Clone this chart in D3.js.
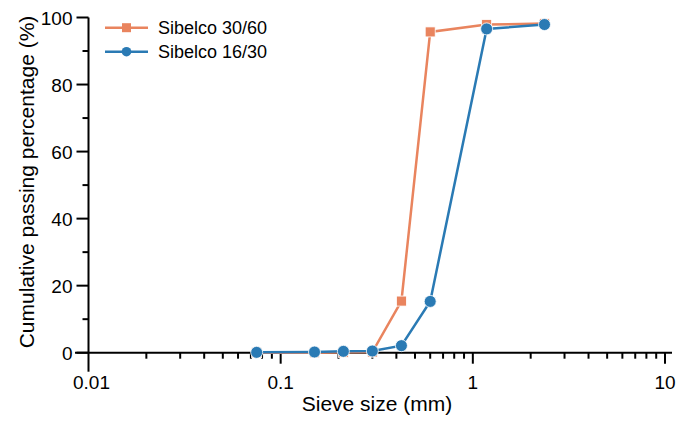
<!DOCTYPE html>
<html>
 <head>
    <title>Sieve curve</title>
    <script src="https://d3js.org/d3.v7.min.js"></script>
    <style>
      body { margin: 0; background: #fff; }
      text { font-family: "Liberation Sans", Arial, sans-serif; fill: #000; }
    </style>
 </head>
 <body>
    <div id="chart"></div>
    <script>
      // sieve sizes (mm) and cumulative passing (%)
      var sizes3060 = [0.075, 0.15, 0.212, 0.3, 0.425, 0.6, 1.18, 2.36];
      var pass3060 = [0, 0, 0.1, 0.2, 15.4, 95.7, 97.9, 98.2];
      var sizes1630 = [0.075, 0.15, 0.212, 0.3, 0.425, 0.6, 1.18, 2.36];
      var pass1630 = [0.1, 0.2, 0.4, 0.5, 2.1, 15.3, 96.6, 97.9];
      var seriesNames = ["Sibelco 30/60", "Sibelco 16/30"];
      var xTickLabels = ["0.01", "0.1", "1", "10"];
      var yTicks = [0, 20, 40, 60, 80, 100];

      var width = 688, height = 423;
      var colors = ["#E9845E", "#2A7AB4"];

      var svg = d3.select("#chart").append("svg")
        .attr("width", width)
        .attr("height", height);

      var x = d3.scaleLog().domain([0.01, 10]).range([88.5, 665]);
      var y = d3.scaleLinear().domain([0, 100]).range([352.7, 17.5]);

      // minor ticks for the log axis
      var xMinor = [];
      [0.01, 0.1, 1].forEach(function (d) {
        for (var k = 2; k <= 9; k++) xMinor.push(d * k);
      });

      // x axis
      var xAxis = svg.append("g").attr("transform", "translate(0," + y(0) + ")");
      xAxis.append("line")
        .attr("x1", 75).attr("x2", 672)
        .attr("stroke", "#000").attr("stroke-width", 2);
      xAxis.selectAll(".minor").data(xMinor).enter().append("line")
        .attr("x1", function (d) { return x(d); })
        .attr("x2", function (d) { return x(d); })
        .attr("y1", 0).attr("y2", 6)
        .attr("stroke", "#000").attr("stroke-width", 2);
      xAxis.selectAll(".major").data(xTickLabels).enter().append("line")
        .attr("x1", function (d) { return x(+d); })
        .attr("x2", function (d) { return x(+d); })
        .attr("y1", 0).attr("y2", function (d, i) { return i === 0 ? 19 : 11; })
        .attr("stroke", "#000").attr("stroke-width", 2);
      xAxis.selectAll(".lab").data(xTickLabels).enter().append("text")
        .attr("x", function (d) { return x(+d) + (d === "0.01" ? 3 : 0); })
        .attr("y", 36)
        .attr("text-anchor", "middle")
        .style("font-size", "19px")
        .text(function (d) { return d; });

      // y axis
      var yAxis = svg.append("g").attr("transform", "translate(" + x(0.01) + ",0)");
      yAxis.append("line")
        .attr("y1", y(100)).attr("y2", y(0))
        .attr("stroke", "#000").attr("stroke-width", 2);
      yAxis.selectAll(".minor").data([10, 30, 50, 70, 90]).enter().append("line")
        .attr("x1", -6).attr("x2", 0)
        .attr("y1", function (d) { return y(d); })
        .attr("y2", function (d) { return y(d); })
        .attr("stroke", "#000").attr("stroke-width", 2);
      yAxis.selectAll(".major").data(yTicks).enter().append("line")
        .attr("x1", -12).attr("x2", 0)
        .attr("y1", function (d) { return y(d); })
        .attr("y2", function (d) { return y(d); })
        .attr("stroke", "#000").attr("stroke-width", 2);
      yAxis.selectAll(".lab").data(yTicks).enter().append("text")
        .attr("x", -16)
        .attr("y", function (d) { return y(d) + 7; })
        .attr("text-anchor", "end")
        .style("font-size", "19px")
        .text(function (d) { return d; });

      // axis titles
      svg.append("text")
        .attr("x", 377).attr("y", 411)
        .attr("text-anchor", "middle")
        .style("font-size", "21px")
        .text("Sieve size (mm)");
      svg.append("text")
        .attr("transform", "translate(34,182) rotate(-90)")
        .attr("text-anchor", "middle")
        .style("font-size", "21px")
        .text("Cumulative passing percentage (%)");

      var line = d3.line()
        .x(function (d) { return x(d[0]); })
        .y(function (d) { return y(d[1]); });

      var data3060 = d3.zip(sizes3060, pass3060);
      var data1630 = d3.zip(sizes1630, pass1630);

      // orange series (squares)
      svg.append("path").datum(data3060)
        .attr("d", line).attr("fill", "none")
        .attr("stroke", colors[0]).attr("stroke-width", 2.5);
      svg.selectAll(".sq").data(data3060).enter().append("rect")
        .attr("x", function (d) { return x(d[0]) - 5; })
        .attr("y", function (d) { return y(d[1]) - 5; })
        .attr("width", 10).attr("height", 10)
        .attr("fill", colors[0]).attr("stroke", "#fff").attr("stroke-width", 0.8);

      // blue series (circles)
      svg.append("path").datum(data1630)
        .attr("d", line).attr("fill", "none")
        .attr("stroke", colors[1]).attr("stroke-width", 2.5);
      svg.selectAll(".ci").data(data1630).enter().append("circle")
        .attr("cx", function (d) { return x(d[0]); })
        .attr("cy", function (d) { return y(d[1]); })
        .attr("r", 6)
        .attr("fill", colors[1]).attr("stroke", "#fff").attr("stroke-width", 0.8);

      // legend
      var legend = svg.append("g");
      seriesNames.forEach(function (name, i) {
        var ly = 27.7 + i * 24;
        legend.append("line")
          .attr("x1", 105).attr("x2", 148)
          .attr("y1", ly).attr("y2", ly)
          .attr("stroke", colors[i]).attr("stroke-width", 2.5);
        if (i === 0) {
          legend.append("rect")
            .attr("x", 122).attr("y", ly - 4.5)
            .attr("width", 9).attr("height", 9)
            .attr("fill", colors[i]);
        } else {
          legend.append("circle")
            .attr("cx", 126.5).attr("cy", ly).attr("r", 4.8)
            .attr("fill", colors[i]);
        }
        legend.append("text")
          .attr("x", 158).attr("y", ly + 6.5)
          .style("font-size", "18px")
          .text(name);
      });
    </script>
 </body>
</html>
